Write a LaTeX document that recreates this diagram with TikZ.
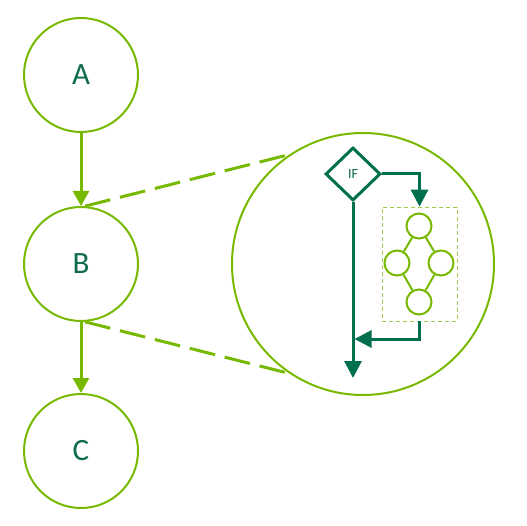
\documentclass[tikz,border=0pt]{standalone}
\usepackage{fontspec}
\setmainfont{Carlito}
\usetikzlibrary{arrows.meta,shapes.geometric}
\definecolor{lg}{HTML}{76B900}
\definecolor{dg}{HTML}{006F4E}
\definecolor{tg}{HTML}{0E6B50}
\tikzset{
  bigc/.style={circle,draw=lg,line width=2pt,minimum size=114pt,inner sep=0pt,text=tg,font=\fontsize{31}{31}\selectfont},
  zoomc/.style={circle,draw=lg,line width=2pt,minimum size=262pt,inner sep=0pt},
  smallc/.style={circle,draw=lg,line width=2pt,minimum size=25pt,inner sep=0pt},
  ifbox/.style={diamond,draw=dg,line width=3pt,minimum width=55pt,minimum height=53pt,inner sep=0pt,text=tg,font=\fontsize{14}{14}\selectfont},
  grpbox/.style={draw=lg!70,line width=0.8pt,dash pattern=on 4pt off 3pt,minimum width=75pt,minimum height=114pt,inner sep=0pt},
  lgarrow/.style={draw=lg,line width=3pt,-{Triangle[width=16pt,length=15pt]}},
  dgarrow/.style={draw=dg,line width=3pt,-{Triangle[width=17pt,length=17pt]}},
  zoomline/.style={draw=lg,line width=3pt,dash pattern=on 26pt off 10pt},
  grpline/.style={draw=lg,line width=2pt}
}
\begin{document}
\begin{tikzpicture}[x=1pt,y=-1pt]
\useasboundingbox (0,0) rectangle (527,526);
\node[bigc] (A) at (81,75) {A};
\node[bigc] (B) at (81,264) {B};
\node[bigc] (C) at (81,451) {C};
\node[zoomc] (Z) at (363,264) {};
\draw[lgarrow] (A) -- (B);
\draw[lgarrow] (B) -- (C);
\draw[zoomline] (B.86) -- (Z.124);
\draw[zoomline] (B.274) -- (Z.236);
\node[ifbox] (IF) at (353,174) {IF};
\node[grpbox] (G) at (419.5,264) {};
\node[smallc] (s1) at (419,226) {};
\node[smallc] (s2) at (397,263) {};
\node[smallc] (s3) at (441,263) {};
\node[smallc] (s4) at (419,302) {};
\draw[grpline] (s1) -- (s2);
\draw[grpline] (s1) -- (s3);
\draw[grpline] (s2) -- (s4);
\draw[grpline] (s3) -- (s4);
\coordinate (E) at (353,378);
\coordinate (J) at (354.5,339);
\draw[dgarrow] (IF.east) -| (G.north);
\draw[dgarrow] (IF.south) -- (E);
\draw[dgarrow] (G.south) |- (J);
\end{tikzpicture}
\end{document}
